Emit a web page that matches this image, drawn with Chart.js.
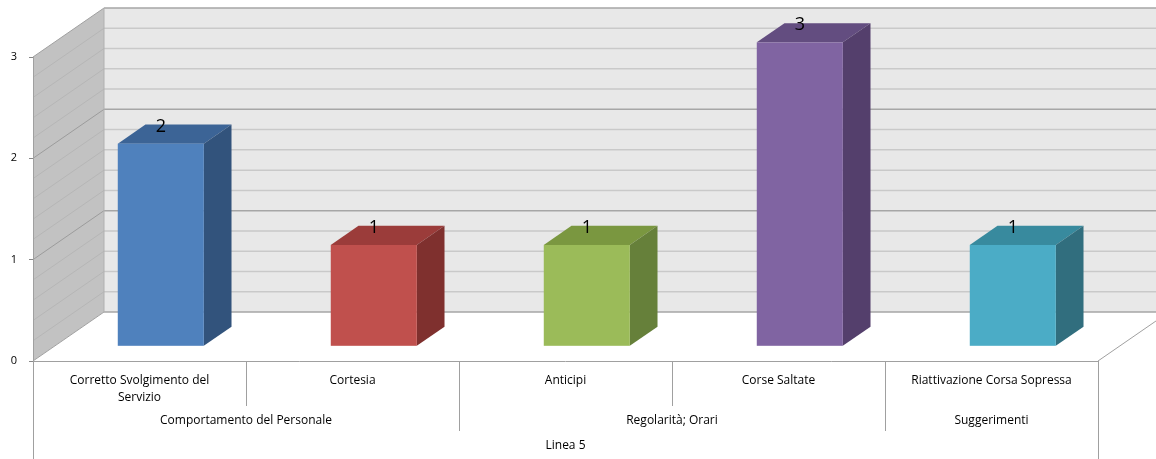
<!DOCTYPE html>
<html><head><meta charset="utf-8">
<script src="https://cdn.jsdelivr.net/npm/chart.js@4.4.1/dist/chart.umd.min.js"></script>
<style>html,body{margin:0;padding:0;background:#fff;}#wrap{width:1156px;height:459px;position:relative;}</style>
</head><body><div id="wrap"><canvas id="c"></canvas></div>
<script>
// ---- data ----
const categories = [['Corretto Svolgimento del','Servizio'], 'Cortesia', 'Anticipi', 'Corse Saltate', 'Riattivazione Corsa Sopressa'];
const groups = ['Comportamento del Personale', 'Comportamento del Personale', 'Regolarità; Orari', 'Regolarità; Orari', 'Suggerimenti'];
const outerLabel = 'Linea 5';
const values = [2, 1, 1, 3, 1];
const yTicks = [0, 1, 2, 3];

// ---- styles ----
const frontColors = ['#4F81BD', '#C0504D', '#9BBB59', '#8064A2', '#4BACC6'];
const topColors   = ['#3C6496', '#9B3C3A', '#7A9740', '#634D80', '#388A9E'];
const sideColors  = ['#32537C', '#7F302E', '#66803A', '#543F6C', '#316E7E'];
const DEPTH = {x: 71, y: -49};
const BAR_F0 = 0.30, BAR_F1 = 0.69;
const FONT = '"Open Sans", Lato, sans-serif';

function poly(ctx, pts, fill, stroke){
  ctx.beginPath();
  ctx.moveTo(pts[0][0], pts[0][1]);
  for (let i=1;i<pts.length;i++) ctx.lineTo(pts[i][0], pts[i][1]);
  ctx.closePath();
  if (fill){ ctx.fillStyle = fill; ctx.fill(); }
  if (stroke){ ctx.strokeStyle = stroke; ctx.lineWidth = 1; ctx.stroke(); }
}
function line(ctx, x1, y1, x2, y2, color, w){
  ctx.beginPath(); ctx.moveTo(x1, y1); ctx.lineTo(x2, y2);
  ctx.strokeStyle = color; ctx.lineWidth = w || 1; ctx.stroke();
}

const wallsPlugin = {
  id: 'walls',
  beforeDraw(chart){
    const {ctx, chartArea: a, scales: {y}} = chart;
    const dx = DEPTH.x, dy = DEPTH.y;
    const yv = v => y.getPixelForValue(v);
    const y0 = yv(y.min), yT = yv(y.max);
    ctx.save();
    ctx.fillStyle = '#E8E8E8';
    ctx.fillRect(a.left + dx, yT + dy, a.right - a.left, y0 - yT);
    poly(ctx, [[a.left, yT], [a.left + dx, yT + dy], [a.left + dx, y0 + dy], [a.left, y0]], '#C2C2C2');
    poly(ctx, [[a.left, y0], [a.left + dx, y0 + dy], [a.right + dx, y0 + dy], [a.right, y0]], '#FFFFFF');
    const step = 0.2;
    const n = Math.round((y.max - y.min) / step);
    for (let k = 0; k <= n; k++){
      const v = y.min + k * step;
      const major = (k % 5 === 0);
      const py = yv(v);
      line(ctx, a.left + dx, py + dy, a.right + dx, py + dy, major ? '#A6A6A6' : '#C9C9C9', 1.5);
      if (k > 0 && k < n) line(ctx, a.left, py, a.left + dx, py + dy, major ? '#9C9C9C' : '#B6B6B6', 1);
    }
    line(ctx, a.left, yT, a.left + dx, yT + dy, '#A0A0A0', 1);
    line(ctx, a.left + dx, yT + dy, a.left + dx, y0 + dy, '#B0B0B0', 1);
    line(ctx, a.left, y0, a.left + dx, y0 + dy, '#A0A0A0', 1);
    line(ctx, a.left, y0 + 0.5, a.right, y0 + 0.5, '#A0A0A0', 1);
    line(ctx, a.right, y0, a.right + dx, y0 + dy, '#A0A0A0', 1);
    ctx.restore();
  }
};

const bars3dPlugin = {
  id: 'bars3d',
  afterDatasetsDraw(chart){
    const ctx = chart.ctx;
    const meta = chart.getDatasetMeta(0);
    const dx = DEPTH.x, dy = DEPTH.y;
    const ox = dx * BAR_F0, oy = dy * BAR_F0;
    const bx = dx * (BAR_F1 - BAR_F0), by = dy * (BAR_F1 - BAR_F0);
    ctx.save();
    meta.data.forEach((bar, i) => {
      const p = bar.getProps(['x', 'y', 'base', 'width'], true);
      const L = p.x - p.width / 2 + ox, R = p.x + p.width / 2 + ox;
      const T = p.y + oy, B = p.base + oy;
      poly(ctx, [[L, T], [R, T], [R + bx, T + by], [L + bx, T + by]], topColors[i]);
      poly(ctx, [[R, T], [R + bx, T + by], [R + bx, B + by], [R, B]], sideColors[i]);
      ctx.fillStyle = frontColors[i];
      ctx.fillRect(L, T, R - L, B - T);
      ctx.fillStyle = '#000';
      ctx.font = '18px ' + FONT;
      ctx.textAlign = 'center';
      ctx.textBaseline = 'middle';
      ctx.fillText(String(values[i]), p.x + ox, T - 17);
    });
    ctx.restore();
  }
};

const groupsPlugin = {
  id: 'groups',
  afterDraw(chart){
    const {ctx, chartArea: a, scales: {x}} = chart;
    const y0 = a.bottom;
    const slot = (a.right - a.left) / categories.length;
    const edge = i => x.getPixelForValue(i) - slot / 2;
    ctx.save();
    ctx.fillStyle = '#000';
    ctx.font = '12px ' + FONT;
    ctx.textAlign = 'center';
    ctx.textBaseline = 'middle';
    for (let i = 0; i <= categories.length; i++){
      const px = Math.round(edge(i)) + 0.5;
      let len;
      if (i === 0 || i === categories.length) len = 98;
      else if (groups[i] !== groups[i - 1]) len = 70;
      else len = 45;
      line(ctx, px, y0, px, y0 + len, '#A0A0A0', 1);
    }
    let s = 0;
    for (let i = 1; i <= groups.length; i++){
      if (i === groups.length || groups[i] !== groups[s]){
        const cx = (edge(s) + edge(i)) / 2;
        ctx.fillText(groups[s], cx, y0 + 60);
        s = i;
      }
    }
    ctx.fillText(outerLabel, (edge(0) + edge(categories.length)) / 2, y0 + 85);
    ctx.restore();
  }
};

new Chart(document.getElementById('c'), {
  type: 'bar',
  data: {
    labels: categories,
    datasets: [{
      data: values,
      backgroundColor: 'rgba(0,0,0,0)',
      borderWidth: 0,
      categoryPercentage: 1,
      barPercentage: 0.404
    }]
  },
  options: {
    responsive: true,
    maintainAspectRatio: false,
    animation: false,
    events: [],
    layout: {padding: {left: 0, right: 58, top: 57, bottom: 0}},
    plugins: {legend: {display: false}, tooltip: {enabled: false}, title: {display: false}},
    scales: {
      x: {
        type: 'category',
        offset: true,
        grid: {display: false, drawTicks: false},
        border: {display: false},
        ticks: {font: {family: FONT, size: 12, lineHeight: 1.4}, color: '#000', padding: 11, maxRotation: 0, autoSkip: false},
        afterFit(s){ s.height = 98; }
      },
      y: {
        min: 0, max: 3,
        afterBuildTicks(s){ s.ticks = yTicks.map(v => ({value: v})); },
        grid: {drawOnChartArea: false, drawTicks: true, tickLength: 4, color: '#888888'},
        border: {display: true, color: '#A0A0A0'},
        ticks: {font: {family: FONT, size: 11}, color: '#000', padding: 12},
        afterFit(s){ s.width = 33; }
      }
    }
  },
  plugins: [wallsPlugin, bars3dPlugin, groupsPlugin]
});
</script>
</body></html>
